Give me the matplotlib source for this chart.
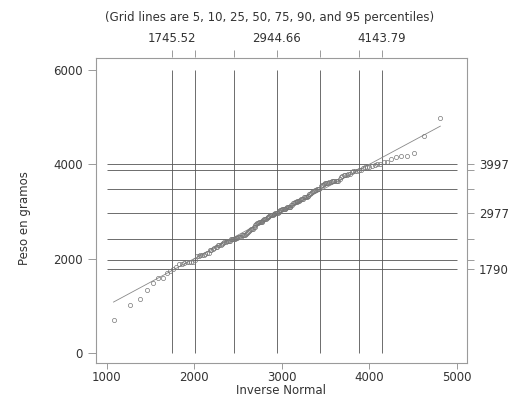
import matplotlib
matplotlib.use('Agg')
import matplotlib.pyplot as plt
import numpy as np
from statistics import NormalDist

plt.rcParams['font.family'] = ['DejaVu Sans']

# birth weights (g), sorted
peso = [709, 1021, 1135, 1330, 1474, 1588, 1588, 1701, 1729, 1790,
        1818, 1885, 1893, 1899, 1928, 1928, 1928, 1936, 1970, 2055,
        2055, 2082, 2084, 2084, 2100, 2125, 2126, 2187, 2187, 2211,
        2225, 2240, 2240, 2282, 2296, 2296, 2301, 2325, 2353, 2353,
        2367, 2381, 2381, 2381, 2410, 2410, 2410, 2414, 2424, 2438,
        2442, 2450, 2466, 2466, 2466, 2495, 2495, 2495, 2495,
        2523, 2551, 2557, 2594, 2600, 2622, 2637, 2637, 2663, 2665,
        2722, 2733, 2750, 2750, 2769, 2769, 2778, 2782, 2807, 2821,
        2835, 2835, 2836, 2863, 2877, 2877, 2906, 2920, 2920, 2920,
        2920, 2948, 2948, 2977, 2977, 2977, 2977, 2990, 3005, 3033,
        3042, 3062, 3062, 3062, 3062, 3062, 3080, 3090, 3090, 3090,
        3100, 3104, 3132, 3147, 3175, 3175, 3203, 3203, 3203, 3225,
        3225, 3232, 3234, 3260, 3274, 3274, 3303, 3317, 3317, 3317,
        3321, 3331, 3374, 3374, 3402, 3416, 3430, 3444, 3459, 3460,
        3473, 3475, 3487, 3544, 3572, 3572, 3586, 3600, 3600, 3614,
        3614, 3629, 3629, 3637, 3643, 3651, 3651, 3651, 3651, 3699,
        3728, 3756, 3770, 3770, 3770, 3790, 3799, 3827, 3856, 3860,
        3860, 3884, 3884, 3912, 3940, 3941, 3941, 3969, 3983, 3997,
        3997, 4054, 4054, 4111, 4153, 4167, 4174, 4238, 4593, 4990]

media = 2944.66
desv = 729.02

# grid lines
pct_y = [1790, 1970, 2414, 2977, 3475, 3884, 3997]
pct_y_labels = ['1790', '', '', '2977', '', '', '3997']
norm_x = [1745.52, 2010.35, 2452.95, 2944.66, 3436.37, 3878.97, 4143.79]
norm_x_labels = ['1745.52', '', '', '2944.66', '', '', '4143.79']

xticks = [1000, 2000, 3000, 4000, 5000]
yticks = [0, 2000, 4000, 6000]

# theoretical quantiles for the qnorm plot
n = len(peso)
nd = NormalDist(media, desv)
qx = [nd.inv_cdf(i / (n + 1)) for i in range(1, n + 1)]

txt = '#333333'
gridc = '#555555'
framec = '#9a9a9a'
fs = 8.5

fig = plt.figure(figsize=(5.2, 3.97), dpi=100)
ax = fig.add_axes([96 / 520, 1 - 363 / 397, (467 - 96) / 520, (363 - 57.5) / 397])

ax.set_xlim(880, 5114)
ax.set_ylim(-212, 6265)

ax.hlines(pct_y, 1000, 5000, color=gridc, lw=0.6, zorder=1)
ax.vlines(norm_x, 0, 6000, color=gridc, lw=0.6, zorder=1)

ax.plot([qx[0], qx[-1]], [qx[0], qx[-1]], color='#888888', lw=0.6, zorder=2)
ax.plot(qx, peso, 'o', ms=3, mfc='none', mec='#777777', mew=0.5, zorder=3)

for s in ax.spines.values():
    s.set_color(framec)
    s.set_linewidth(0.8)

ax.set_xticks(xticks)
ax.set_yticks(yticks)
ax.tick_params(colors=framec, labelcolor=txt, labelsize=fs, length=4, width=0.7)
ax.tick_params(axis='x', pad=1.5)
ax.tick_params(axis='y', length=5.5, pad=4)
ax.set_xlabel('Inverse Normal', color=txt, fontsize=fs, va='center')
ax.xaxis.set_label_coords(0.5, (363 - 391) / 305.5)
ax.set_ylabel('Peso en gramos', color=txt, fontsize=fs, va='center')
ax.yaxis.set_label_coords((25 - 96) / 371, (363 - 218) / 305.5)

top = ax.secondary_xaxis('top')
top.set_xticks(norm_x)
top.set_xticklabels(norm_x_labels)
top.tick_params(colors=framec, labelcolor=txt, labelsize=fs, length=5, width=0.7, pad=4)
top.spines['top'].set_visible(False)

right = ax.secondary_yaxis('right')
right.set_yticks(pct_y)
right.set_yticklabels(pct_y_labels)
right.tick_params(colors=framec, labelcolor=txt, labelsize=fs, length=5, width=0.7)
right.spines['right'].set_visible(False)

fig.text(270 / 520, 1 - 17 / 397, '(Grid lines are 5, 10, 25, 50, 75, 90, and 95 percentiles)',
         ha='center', va='center', color=txt, fontsize=fs)

fig.savefig('out.png', dpi=100)
